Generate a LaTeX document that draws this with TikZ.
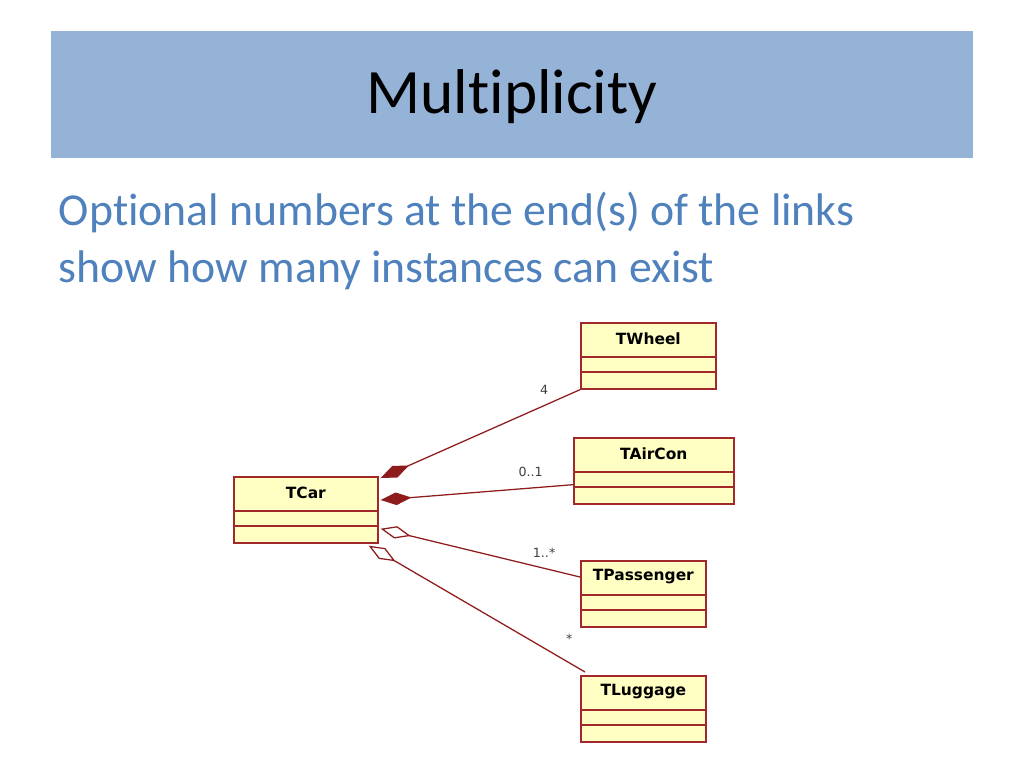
\documentclass[tikz,border=0pt]{standalone}
\usepackage{fontspec}
\setmainfont{Carlito}[Ligatures=NoCommon]
\newfontfamily\boxfont{DejaVu Sans}
\usetikzlibrary{arrows.meta, calc, positioning}
\definecolor{barblue}{HTML}{95B3D7}
\definecolor{textblue}{HTML}{4F81BD}
\definecolor{boxfill}{HTML}{FFFFC4}
\definecolor{boxline}{HTML}{A3282B}
\definecolor{linkred}{HTML}{8E1C1C}
\tikzset{
  classbox/.style={draw=boxline, fill=boxfill, line width=1.2pt, anchor=north west, inner sep=0pt},
  link/.style={draw=linkred, line width=0.9pt},
  comp/.style={link, {Diamond[length=22pt,width=9pt,fill=linkred]}-},
  aggr/.style={link, {Diamond[length=22pt,width=9pt,open,fill=white]}-},
  mult/.style={font=\boxfont\fontsize{9}{10}\selectfont, text=black!75}
}
% class box with name row and two empty rows
\newcommand{\umlclass}[5]{%
  \node[classbox, minimum width=#4*0.025cm, minimum height=66*0.025cm] (#1) at (#2,#3) {};
  \node[font=\boxfont\bfseries\fontsize{11}{12}\selectfont] at ($(#1.north)+(0,17)$) {#5};
  \draw[boxline, line width=1.2pt] ($(#1.north west)+(0,35)$) -- ($(#1.north east)+(0,35)$);
  \draw[boxline, line width=1.2pt] ($(#1.north west)+(0,50)$) -- ($(#1.north east)+(0,50)$);
}
\begin{document}
\begin{tikzpicture}[x=0.025cm, y=-0.025cm]
  \useasboundingbox (0,0) rectangle (1024,768);
  \fill[barblue] (51,31) rectangle (973,158);
  \node[font=\fontsize{45}{50}\selectfont] (title) at (512,97) {Multiplicity};
  \node[anchor=west, align=left, text=textblue, font=\fontsize{32.5}{40}\selectfont] (sub) at (54,241)
    {Optional numbers at the end(s) of the links\\show how many instances can exist};

  \umlclass{car}{233}{476}{144}{TCar}
  \umlclass{wheel}{580}{322}{135}{TWheel}
  \umlclass{aircon}{573}{437}{160}{TAirCon}
  \umlclass{pass}{580}{560}{125}{TPassenger}
  \umlclass{lugg}{580}{675}{125}{TLuggage}

  \coordinate (carA) at ($(car.north east)+(2,2)$);
  \coordinate (carB) at ($(car.north east)+(2,24)$);
  \coordinate (carC) at ($(car.south east)+(2,-15)$);
  \coordinate (carD) at ($(car.south east)+(-10,2)$);

  \draw[comp] (carA) -- (wheel.south west) node[mult, pos=0.82, above=4pt] {4};
  \draw[comp] (carB) -- ($(aircon.south west)+(0,-20)$) node[mult, pos=0.78, above=4pt] {0..1};
  \draw[aggr] (carC) -- ($(pass.north west)+(0,17)$) node[mult, pos=0.82, above=4pt] {1..*};
  \draw[aggr] (carD) -- ($(lugg.north west)+(5,-3)$) node[mult, pos=0.86, above right=6pt] {*};
\end{tikzpicture}
\end{document}
